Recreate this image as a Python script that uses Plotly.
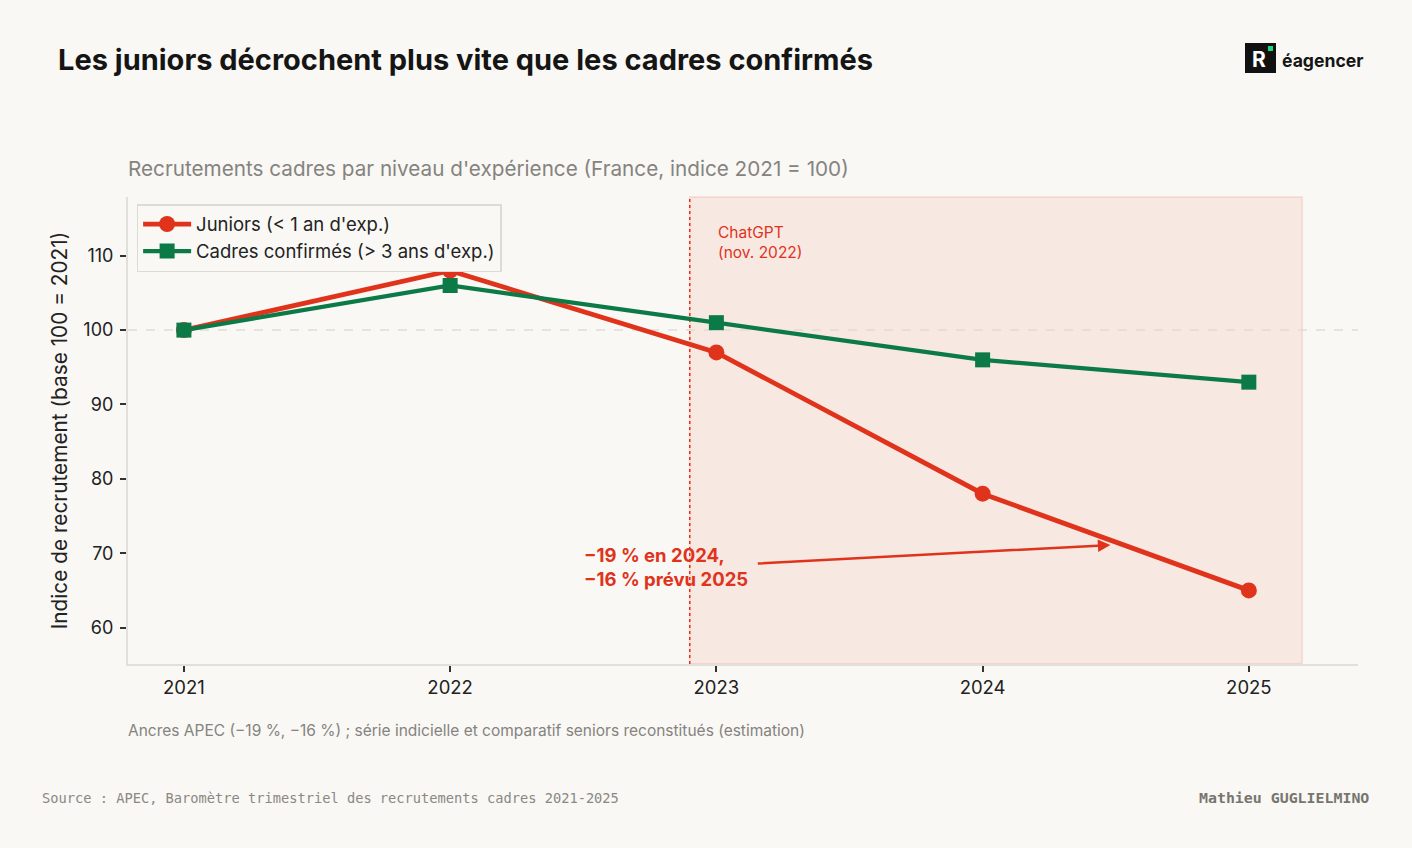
import plotly.graph_objects as go

years = [2021, 2022, 2023, 2024, 2025]
juniors = [100, 108, 97, 78, 65]
confirmes = [100, 106, 101, 96, 93]
y_ticks = [60, 70, 80, 90, 100, 110]

RED = "#E0331C"
GREEN = "#0B7A47"
BG = "#F9F8F4"
GRID = "#E2E0DA"
chatgpt_x = 2022.9
shade_end = 2025.2

fig = go.Figure()

fig.add_shape(type="rect", xref="x", yref="paper", x0=chatgpt_x, x1=shade_end, y0=0, y1=1,
              fillcolor="rgba(224,51,28,0.08)", line=dict(color="rgba(224,51,28,0.10)", width=2), layer="below")
fig.add_shape(type="line", xref="paper", yref="y", x0=0, x1=1, y0=100, y1=100,
              line=dict(color="#DEDCD5", width=1.5, dash="dash"), layer="below")
fig.add_shape(type="line", xref="x", yref="paper", x0=chatgpt_x, x1=chatgpt_x, y0=0, y1=1,
              line=dict(color=RED, width=1.5, dash="dot"), layer="below")

fig.add_trace(go.Scatter(x=years, y=juniors, mode="lines+markers", name="Juniors (< 1 an d'exp.)",
                         line=dict(color=RED, width=4.8), marker=dict(symbol="circle", size=16, color=RED)))
fig.add_trace(go.Scatter(x=years, y=confirmes, mode="lines+markers", name="Cadres confirmés (> 3 ans d'exp.)",
                         line=dict(color=GREEN, width=4.2), marker=dict(symbol="square", size=15, color=GREEN)))

# annotations in plot
fig.add_annotation(x=chatgpt_x + 0.1, y=114.7, xref="x", yref="y", text="ChatGPT<br>(nov. 2022)",
                   showarrow=False, xanchor="left", yanchor="top", align="left",
                   font=dict(family="Inter", size=15.5, color=RED))
fig.add_annotation(x=2024.48, y=71.1, ax=2023.15, ay=68.6, xref="x", yref="y", axref="x", ayref="y",
                   text="", showarrow=True, arrowhead=2, arrowsize=1, arrowwidth=2.5, arrowcolor=RED)
fig.add_annotation(x=2022.495, y=68.2, xref="x", yref="y", text="<b>−19 % en 2024,<br>−16 % prévu 2025</b>",
                   showarrow=False, xanchor="left", yanchor="middle", align="left",
                   font=dict(family="Inter", size=18.5, color=RED))


def px(xp, yp, text, size, color, family="Inter", xanchor="left", yanchor="middle"):
    fig.add_annotation(x=(xp - 128) / 1230, y=(664 - yp) / 467, xref="paper", yref="paper",
                       text=text, showarrow=False, xanchor=xanchor, yanchor=yanchor,
                       font=dict(family=family, size=size, color=color))


px(56, 59, "<b>Les juniors décrochent plus vite que les cadres confirmés</b>", 29, "#151515")
px(126, 168, "Recrutements cadres par niveau d'expérience (France, indice 2021 = 100)", 20.7, "#858380")
px(126, 730, "Ancres APEC (−19 %, −16 %) ; série indicielle et comparatif seniors reconstitués (estimation)", 15.5, "#858380")
px(40, 798, "Source : APEC, Baromètre trimestriel des recrutements cadres 2021-2025", 13.7, "#8A8884",
   family="DejaVu Sans Mono")
px(1371, 798, "<b>Mathieu GUGLIELMINO</b>", 14.9, "#77756F", family="DejaVu Sans Mono", xanchor="right")

# logo
fig.add_shape(type="rect", xref="paper", yref="paper",
              x0=(1245 - 128) / 1230, x1=(1276 - 128) / 1230, y0=(664 - 73) / 467, y1=(664 - 43) / 467,
              fillcolor="#111111", line=dict(width=0))
fig.add_shape(type="rect", xref="paper", yref="paper",
              x0=(1268 - 128) / 1230, x1=(1273 - 128) / 1230, y0=(664 - 51) / 467, y1=(664 - 46) / 467,
              fillcolor="#1ED67A", line=dict(width=0))
px(1259, 59, "<b>R</b>", 21, "#FFFFFF", xanchor="center")
px(1280, 60, "<b>éagencer</b>", 17.6, "#151515")

fig.update_layout(
    width=1412, height=848,
    paper_bgcolor=BG, plot_bgcolor=BG,
    margin=dict(l=128, r=54, t=197, b=184),
    font=dict(family="Inter", color="#222222"),
    showlegend=True,
    legend=dict(x=0.007, y=0.985, xanchor="left", yanchor="top", bgcolor=BG,
                bordercolor="#DDDBD5", borderwidth=1.5, font=dict(family="Inter", size=18.5, color="#222222"),
                itemwidth=48, tracegroupgap=0),
    xaxis=dict(range=[2020.79, 2025.41], tickvals=years, ticktext=[str(y) for y in years],
               showgrid=False, zeroline=False, showline=True, linecolor=GRID, linewidth=2,
               ticks="outside", ticklen=6, tickwidth=1.5, tickcolor="#333333",
               tickfont=dict(family="Inter", size=18.5, color="#222222")),
    yaxis=dict(range=[55.1, 117.9], tickvals=y_ticks, showgrid=False, zeroline=False,
               showline=True, linecolor=GRID, linewidth=2,
               ticks="outside", ticklen=6, tickwidth=1.5, tickcolor="#333333", ticklabelstandoff=3,
               tickfont=dict(family="Inter", size=18, color="#222222"),
               title=dict(text="Indice de recrutement (base 100 = 2021)", font=dict(family="Inter", size=20.8, color="#222222"),
                          standoff=10)),
)

fig.write_html("out.html")
